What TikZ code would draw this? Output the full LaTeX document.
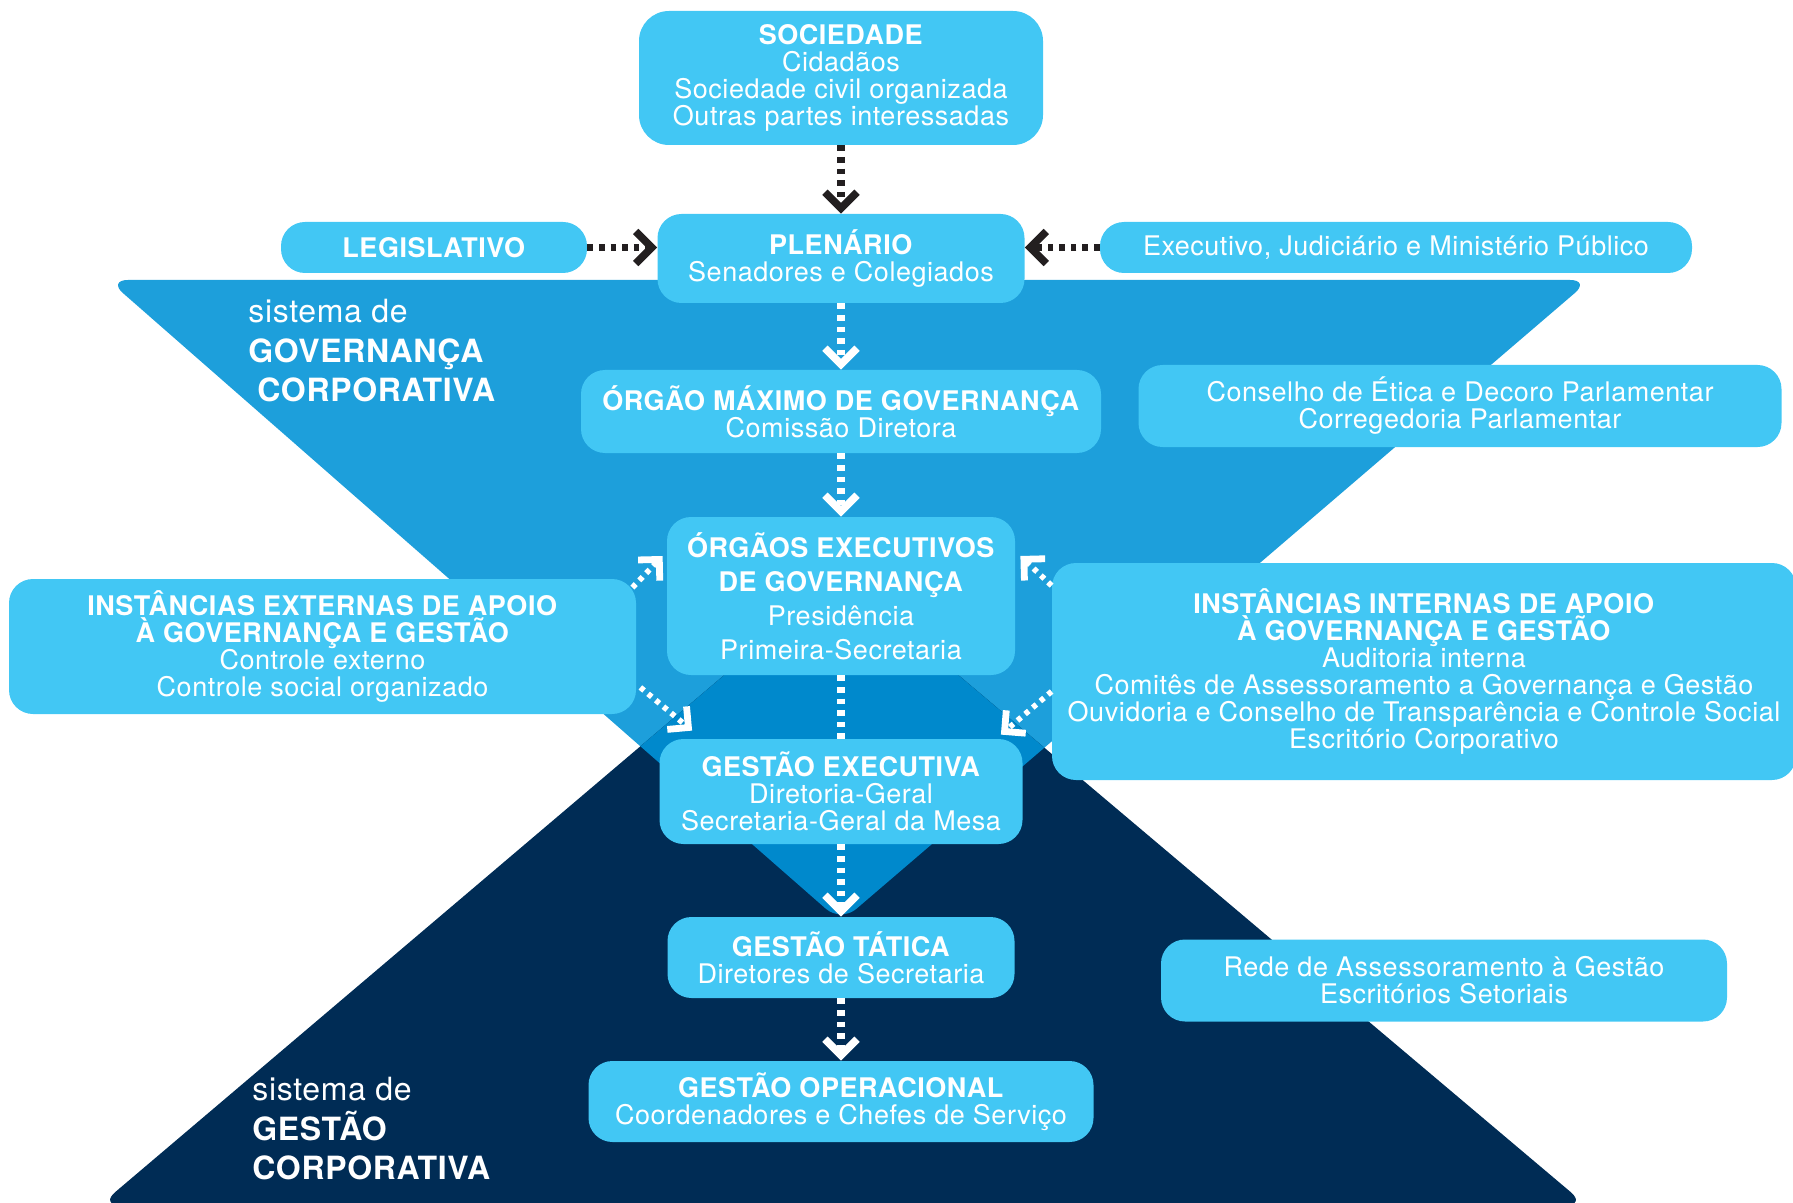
\documentclass[tikz,border=0pt]{standalone}
\usepackage{fontspec}
\setmainfont{TeX Gyre Heros}[LetterSpace=2]
\usetikzlibrary{arrows.meta, positioning, calc}
\definecolor{boxblue}{RGB}{66,199,244}
\definecolor{govblue}{RGB}{29,159,219}
\definecolor{midblue}{RGB}{0,137,204}
\definecolor{navyblue}{RGB}{0,44,85}
\definecolor{arrowblack}{RGB}{35,31,32}
\AtBeginDocument{\lineskiplimit=-6pt\relax}

\begin{document}
\begin{tikzpicture}[
    x=0.5pt, y=-0.5pt,
    block/.style={rectangle, fill=boxblue, rounded corners=12pt, text=white,
        align=center, inner sep=0pt, font=\fontsize{13.5}{13.5}\selectfont},
    syslabel/.style={text=white, align=left, inner sep=0pt, anchor=north west,
        font=\fontsize{16}{19.7}\selectfont},
    arrowdark/.style={draw=arrowblack, line width=3.6pt, dash pattern=on 2.8pt off 3pt,
        -{Straight Barb[length=8pt, width=16pt, line width=3.8pt]}},
    arrowlight/.style={arrowdark, draw=white},
    arrowdiag/.style={draw=white, line width=2.8pt, dash pattern=on 2.4pt off 2.6pt,
        -{Straight Barb[length=7.5pt, width=15pt, line width=3.4pt]}},
    dotline/.style={draw=white, line width=3.6pt, dash pattern=on 2.8pt off 3pt}
]
\useasboundingbox (0,0) rectangle (1793,1203);

\fill[govblue, rounded corners=10pt] (108,280) -- (1590,280) -- (841,922) -- cycle;
\fill[navyblue, rounded corners=10pt] (100,1205) -- (841,576) -- (1586,1205) -- cycle;
\begin{scope}
  \clip[rounded corners=10pt] (108,280) -- (1590,280) -- (841,922) -- cycle;
  \fill[midblue, rounded corners=10pt] (100,1205) -- (841,576) -- (1586,1205) -- cycle;
\end{scope}

\node[syslabel] (GovernancaLabel) at (248,299)
  {sistema de\\\textbf{GOVERNANÇA}\\\hspace*{4.5pt}\textbf{CORPORATIVA}};
\node[syslabel] (GestaoLabel) at (252,1077)
  {sistema de\\\textbf{GESTÃO}\\\textbf{CORPORATIVA}};

\node[block, minimum width=202pt, minimum height=67pt, rounded corners=15pt] (Sociedade) at (841,78)
  {\textbf{SOCIEDADE}\\Cidadãos\\Sociedade civil organizada\\Outras partes interessadas};
\node[block, minimum width=153pt, minimum height=25.5pt] (Legislativo) at (434,247.5)
  {\textbf{LEGISLATIVO}};
\node[block, minimum width=183.5pt, minimum height=44.5pt] (Plenario) at (841,258.5)
  {\textbf{PLENÁRIO}\\Senadores e Colegiados};
\node[block, minimum width=296pt, minimum height=25.5pt] (Executivo) at (1396,247.5)
  {Executivo, Judiciário e Ministério Público};
\node[block, minimum width=260pt, minimum height=41.5pt] (OrgaoMaximo) at (841,411.5)
  {\textbf{ÓRGÃO MÁXIMO DE GOVERNANÇA}\\Comissão Diretora};
\node[block, minimum width=321.5pt, minimum height=41pt] (Conselho) at (1460,406)
  {Conselho de Ética e Decoro Parlamentar\\Corregedoria Parlamentar};
\node[block, minimum width=174pt, minimum height=79pt,
      font=\fontsize{13.5}{17}\selectfont] (OrgaosExec) at (841,596)
  {\textbf{ÓRGÃOS EXECUTIVOS}\\\textbf{DE GOVERNANÇA}\\Presidência\\Primeira-Secretaria};
\node[block, minimum width=313.5pt, minimum height=67.5pt] (Externas) at (322.5,646.5)
  {\textbf{INSTÂNCIAS EXTERNAS DE APOIO}\\\textbf{À GOVERNANÇA E GESTÃO}\\Controle externo\\Controle social organizado};
\node[block, minimum width=372pt, minimum height=108.5pt] (Internas) at (1424,671.5)
  {\textbf{INSTÂNCIAS INTERNAS DE APOIO}\\\textbf{À GOVERNANÇA E GESTÃO}\\Auditoria interna\\Comitês de Assessoramento a Governança e Gestão\\Ouvidoria e Conselho de Transparência e Controle Social\\Escritório Corporativo};
\node[block, minimum width=181.5pt, minimum height=52.5pt] (GestaoExec) at (841,791.5)
  {\textbf{GESTÃO EXECUTIVA}\\Diretoria-Geral\\Secretaria-Geral da Mesa};
\node[block, minimum width=173.5pt, minimum height=40.5pt] (GestaoTatica) at (841,957.5)
  {\textbf{GESTÃO TÁTICA}\\Diretores de Secretaria};
\node[block, minimum width=283pt, minimum height=41pt] (Rede) at (1444,980.5)
  {Rede de Assessoramento à Gestão\\Escritórios Setoriais};
\node[block, minimum width=252.5pt, minimum height=40.5pt] (GestaoOper) at (841,1101.5)
  {\textbf{GESTÃO OPERACIONAL}\\Coordenadores e Chefes de Serviço};

\draw[arrowdark] (Sociedade) -- (Plenario);
\draw[arrowdark] (Legislativo.east) -- (Legislativo.east -| Plenario.west);
\draw[arrowdark] (Executivo.west) -- (Executivo.west -| Plenario.east);
\draw[arrowlight] (Plenario) -- (OrgaoMaximo);
\draw[arrowlight] (OrgaoMaximo) -- (OrgaosExec);
\draw[dotline] (OrgaosExec) -- (GestaoExec);
\draw[arrowlight] (GestaoExec) -- (GestaoTatica);
\draw[arrowlight] (GestaoTatica) -- (GestaoOper);

\draw[arrowdiag] ([shift={(-4,9)}]Externas.north east) -- ([shift={(-4,-40)}]OrgaosExec.west);
\draw[arrowdiag] ([shift={(4,-27)}]Externas.south east) -- ([shift={(33,-8)}]GestaoExec.north west);
\draw[arrowdiag] ([shift={(0,23)}]Internas.north west) -- ([shift={(5,-40)}]OrgaosExec.east);
\draw[arrowdiag] ([shift={(0,20)}]Internas.west) -- ([shift={(-22,-4)}]GestaoExec.north east);

\end{tikzpicture}
\end{document}
